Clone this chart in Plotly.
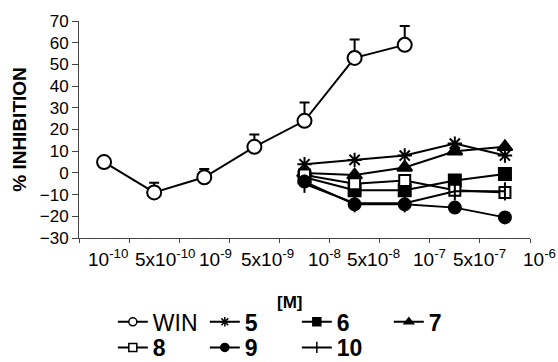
import plotly.graph_objects as go

# ---- data -------------------------------------------------------------
categories = ["1e-10", "5e-10", "1e-9", "5e-9", "1e-8", "5e-8", "1e-7", "5e-7", "1e-6"]
tick_labels = ["10<sup>-10</sup>", "5x10<sup>-10</sup>", "10<sup>-9</sup>", "5x10<sup>-9</sup>",
               "10<sup>-8</sup>", "5x10<sup>-8</sup>", "10<sup>-7</sup>", "5x10<sup>-7</sup>",
               "10<sup>-6</sup>"]

win_x = categories[0:7]
win_y = [5, -9, -2, 12, 24, 53, 59]
win_err = [0, 4.5, 3.8, 5.7, 8.4, 8.5, 8.7]

cmp_x = categories[4:9]
c5 = [4, 6, 8, 13.5, 8]
c6 = [-2, -8, -8, -3.5, -0.5]
c7 = [0, -1, 2.5, 10, 12]
c8 = [-1, -5, -3.5, -8, -9]
c9 = [-4, -14.5, -14.5, -16, -20.5]
c10 = [-5, -14, -14, -8.5, -8.5]

y_ticks = [-30, -20, -10, 0, 10, 20, 30, 40, 50, 60, 70]

# ---- styling -----------------------------------------------------------
FONT = "Liberation Sans, Arial, sans-serif"
BLACK = "#000000"
# label centres, in fractions of the plot width (the labels drift right)
label_paper_x = [0.064, 0.19, 0.302, 0.418, 0.544, 0.653, 0.778, 0.889, 1.02]

series = [
    # name, x, y, symbol, size, fill, legend
    ("WIN", win_x, win_y, "circle", 14, "white", "legend"),
    ("<b>5</b>", cmp_x, c5, "asterisk-open", 12, BLACK, "legend"),
    ("<b>6</b>", cmp_x, c6, "square", 12, BLACK, "legend"),
    ("<b>7</b>", cmp_x, c7, "triangle-up", 13, BLACK, "legend"),
    ("<b>8</b>", cmp_x, c8, "square", 11, "white", "legend2"),
    ("<b>9</b>", cmp_x, c9, "circle", 12, BLACK, "legend2"),
    ("<b>10</b>", cmp_x, c10, "line-ns-open", 13, BLACK, "legend2"),
]

fig = go.Figure()

for name, xs, ys, sym, size, fill, leg in series:
    err = None
    if name == "WIN":
        err = dict(type="data", symmetric=False, array=win_err,
                   arrayminus=[0] * len(win_err), color=BLACK, thickness=2, width=5)
    fig.add_trace(go.Scatter(
        x=xs, y=ys, mode="lines+markers", showlegend=False,
        line=dict(color=BLACK, width=2),
        marker=dict(symbol=sym, size=size, color=fill,
                    line=dict(color=BLACK, width=2)),
        error_y=err,
    ))
    # legend entry with the small symbol used in the key
    fig.add_trace(go.Scatter(
        x=[None], y=[None], mode="lines+markers", name=name, legend=leg,
        line=dict(color=BLACK, width=2),
        marker=dict(symbol=sym, size=8, color=fill,
                    line=dict(color=BLACK, width=1.5)),
    ))

annotations = []
for pos, lab in zip(label_paper_x, tick_labels):
    annotations.append(dict(
        x=pos, xref="paper", y=0, yref="paper", yanchor="top", xanchor="center",
        yshift=-6, text=lab, showarrow=False,
        font=dict(family=FONT, size=19, color=BLACK)))
annotations.append(dict(
    x=0.466, xref="paper", y=-0.295, yref="paper", yanchor="middle",
    text="<b>[M]</b>", showarrow=False,
    font=dict(family=FONT, size=17, color=BLACK)))

legend_common = dict(
    orientation="h", xref="paper", x=0.075, xanchor="left",
    yref="container", yanchor="middle",
    font=dict(family=FONT, size=23, color=BLACK),
    entrywidth=47, entrywidthmode="pixels",
    bgcolor="rgba(0,0,0,0)", borderwidth=0,
)

fig.update_layout(
    width=558, height=362,
    margin=dict(l=79, r=28, t=21, b=124, autoexpand=False),
    paper_bgcolor="white", plot_bgcolor="white",
    font=dict(family=FONT, color=BLACK),
    annotations=annotations,
    legend=dict(legend_common, y=0.111),
    legend2=dict(legend_common, y=0.040),
    xaxis=dict(
        type="category", categoryorder="array", categoryarray=categories,
        range=[-0.5, 8.5], tickson="boundaries", ticks="outside", ticklen=4,
        tickcolor="#444", showticklabels=False, showline=True,
        linecolor="#444", linewidth=1, showgrid=False, zeroline=False,
        automargin=False,
    ),
    yaxis=dict(
        range=[-30, 70], tickvals=y_ticks, ticks="outside", ticklen=6,
        tickcolor="#444", tickfont=dict(family=FONT, size=17, color=BLACK),
        showline=True, linecolor="#444", linewidth=1, showgrid=False,
        zeroline=False, automargin=False,
        title=dict(text="<b>% INHIBITION</b>", standoff=8,
                   font=dict(family=FONT, size=19, color=BLACK)),
    ),
)

fig.write_html("out.html", config={"displayModeBar": False},
               post_script="document.body.style.margin='0';")
